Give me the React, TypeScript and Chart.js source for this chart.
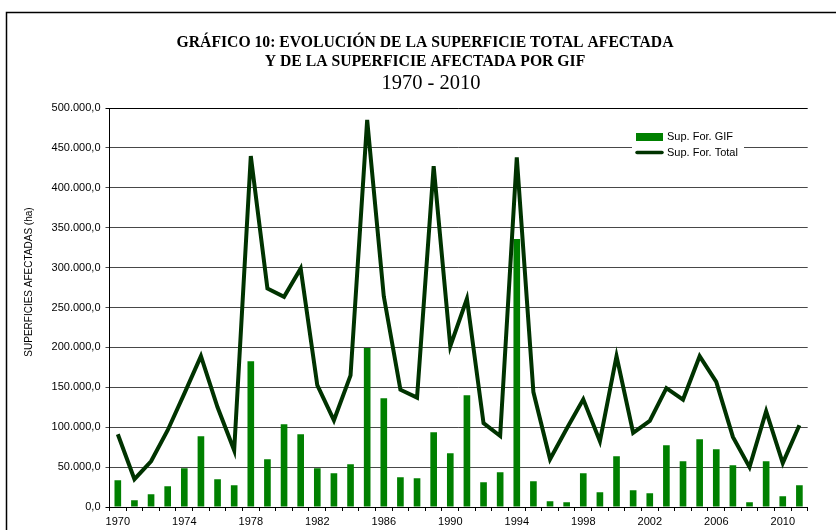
import React, { useEffect, useRef } from 'react';
import { Chart, registerables } from 'chart.js';

Chart.register(...registerables);

const years: string[] = [
  '1970', '1971', '1972', '1973', '1974', '1975', '1976', '1977', '1978', '1979',
  '1980', '1981', '1982', '1983', '1984', '1985', '1986', '1987', '1988', '1989',
  '1990', '1991', '1992', '1993', '1994', '1995', '1996', '1997', '1998', '1999',
  '2000', '2001', '2002', '2003', '2004', '2005', '2006', '2007', '2008', '2009',
  '2010', '2011',
];

const supGif: number[] = [
  33500, 8400, 16000, 26000, 48500, 88700, 34800, 27300, 182700, 59800,
  103700, 91200, 48500, 42300, 53500, 199400, 136300, 37300, 36000, 93700,
  67400, 140000, 31000, 43500, 335700, 32200, 7100, 5900, 42300, 18400,
  63600, 20900, 17200, 77400, 57300, 84900, 72400, 52300, 5900, 57300,
  13400, 27300,
];

const supTotal: number[] = [
  91200, 34800, 57300, 96200, 142000, 189000, 125000, 71000, 439800, 273900,
  263400, 299000, 152600, 108700, 165000, 485000, 264000, 147000, 137000, 427000,
  201500, 261000, 105000, 89000, 438000, 144000, 59800, 98000, 135000, 82400,
  189000, 93000, 108000, 148900, 134600, 189000, 156800, 87800, 50000, 120000,
  55000, 102500,
];

const titleLines: string[] = [
  'GRÁFICO 10: EVOLUCIÓN DE LA SUPERFICIE TOTAL AFECTADA',
  'Y DE LA SUPERFICIE AFECTADA POR GIF',
];
const subtitleText = '1970 - 2010';
const yAxisTitle = 'SUPERFICIES AFECTADAS (ha)';
const legendGif = 'Sup. For. GIF';
const legendTotal = 'Sup. For. Total';

const BAR_COLOR = '#008000';
const LINE_COLOR = '#003300';
const SANS = '"Liberation Sans", Arial, sans-serif';
const SERIF = '"Liberation Serif", "Times New Roman", serif';

function fmt(v: number): string {
  const s = Math.round(v).toString().replace(/\B(?=(\d{3})+(?!\d))/g, '.');
  return s + ',0';
}

const decorPlugin = {
  id: 'decor',
  afterDraw(chart: any) {
    const ctx = chart.ctx as CanvasRenderingContext2D;
    ctx.save();
    // frame
    ctx.strokeStyle = '#000';
    ctx.lineWidth = 1.5;
    ctx.beginPath();
    ctx.moveTo(6.5, 530);
    ctx.lineTo(6.5, 12.5);
    ctx.lineTo(836, 12.5);
    ctx.stroke();

    // titles
    ctx.fillStyle = '#000';
    ctx.textAlign = 'center';
    ctx.textBaseline = 'middle';
    ctx.font = 'bold 15.7px ' + SERIF;
    ctx.fillText(titleLines[0], 425, 43);
    ctx.fillText(titleLines[1], 425, 62);
    ctx.font = '20.5px ' + SERIF;
    ctx.fillText(subtitleText, 431, 84);

    // y axis title
    ctx.save();
    ctx.translate(29, 282);
    ctx.rotate(-Math.PI / 2);
    ctx.font = '10px ' + SANS;
    ctx.fillText(yAxisTitle, 0, 0);
    ctx.restore();

    // legend
    ctx.fillStyle = '#fff';
    ctx.fillRect(632, 126, 112, 34);
    ctx.fillStyle = BAR_COLOR;
    ctx.fillRect(636, 133, 27, 8);
    ctx.strokeStyle = LINE_COLOR;
    ctx.lineWidth = 3.5;
    ctx.lineCap = 'round';
    ctx.beginPath();
    ctx.moveTo(637, 152.5);
    ctx.lineTo(662, 152.5);
    ctx.stroke();
    ctx.fillStyle = '#000';
    ctx.textAlign = 'left';
    ctx.font = '11px ' + SANS;
    ctx.fillText(legendGif, 667, 137);
    ctx.fillText(legendTotal, 667, 153);
    ctx.restore();
  },
};

export default function App() {
  const ref = useRef<HTMLCanvasElement | null>(null);

  useEffect(() => {
    if (!ref.current) return;
    const chart = new Chart(ref.current, {
      type: 'bar',
      data: {
        labels: years,
        datasets: [
          {
            type: 'line',
            label: legendTotal,
            data: supTotal,
            borderColor: LINE_COLOR,
            backgroundColor: LINE_COLOR,
            borderWidth: 4,
            pointRadius: 0,
            tension: 0,
            order: 0,
            borderJoinStyle: 'miter',
          } as any,
          {
            type: 'bar',
            label: legendGif,
            data: supGif,
            backgroundColor: BAR_COLOR,
            borderWidth: 0,
            barPercentage: 0.4,
            categoryPercentage: 1,
            order: 1,
          },
        ],
      },
      options: {
        animation: false,
        responsive: true,
        maintainAspectRatio: false,
        devicePixelRatio: 1,
        layout: { padding: { top: 108, left: 0, right: 28.3, bottom: 0 } },
        plugins: {
          legend: { display: false },
          title: { display: false },
          tooltip: { enabled: false },
        },
        scales: {
          x: {
            offset: true,
            afterFit: (s: any) => { s.height = 23; },
            grid: {
              offset: true,
              drawOnChartArea: false,
              drawTicks: true,
              tickLength: 4,
              color: '#000',
            },
            border: { color: '#000', width: 1 },
            ticks: {
              autoSkip: false,
              maxRotation: 0,
              padding: 4,
              color: '#000',
              font: { family: SANS, size: 11 },
              callback: function (_v: any, i: number) {
                const y = parseInt(years[i], 10);
                return (y - 1970) % 4 === 0 ? years[i] : '';
              },
            },
          },
          y: {
            min: 0,
            max: 500000,
            afterFit: (s: any) => { s.width = 109.5; },
            ticks: {
              stepSize: 50000,
              padding: 5,
              color: '#000',
              font: { family: SANS, size: 11 },
              callback: (v: any) => fmt(Number(v)),
            },
            grid: {
              tickLength: 4,
              color: (c: any) => (c.tick && (c.tick.value === 500000 || c.tick.value === 0) ? '#000' : '#484848'),
              lineWidth: 1,
            },
            border: { color: '#000', width: 1 },
          },
        },
      },
      plugins: [decorPlugin],
    });
    return () => chart.destroy();
  }, []);

  return (
    <div style={{ position: 'absolute', left: 0, top: 0, width: 836, height: 530, background: '#fff' }}>
      <canvas ref={ref} />
    </div>
  );
}
